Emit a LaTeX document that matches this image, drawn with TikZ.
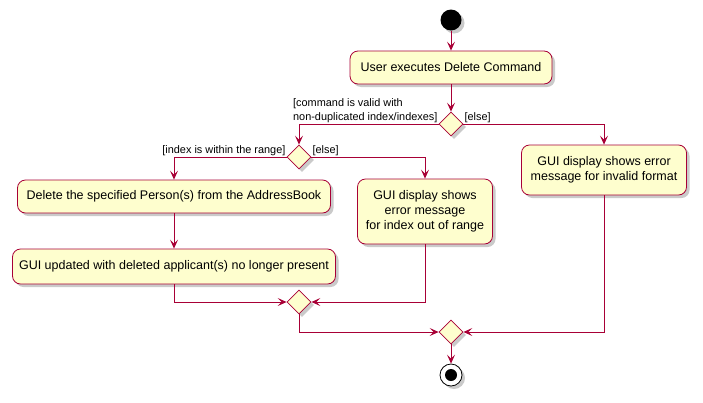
\documentclass[tikz,border=0pt]{standalone}
\usepackage{fontspec}
\setmainfont{Liberation Sans}
\usetikzlibrary{arrows.meta,shapes.geometric,shadows}
\definecolor{umlred}{HTML}{A80036}
\definecolor{umlfill}{HTML}{FEFECE}
\tikzset{
  action/.style={draw=umlred,fill=umlfill,thick,rounded corners=8pt,align=center,
    inner sep=0pt,font=\fontsize{12.5}{15}\selectfont,
    drop shadow={shadow xshift=3pt,shadow yshift=-3pt,fill=black!35,opacity=.6}},
  branch/.style={draw=umlred,fill=umlfill,thick,diamond,inner sep=0pt,
    minimum width=24pt,minimum height=24pt,
    drop shadow={shadow xshift=3pt,shadow yshift=-3pt,fill=black!35,opacity=.6}},
  flow/.style={draw=umlred,thick,-{Stealth[length=9pt,width=8pt,inset=4pt]}},
  guard/.style={font=\fontsize{10.9}{14}\selectfont,inner sep=1pt,align=left}
}
\begin{document}
\begin{tikzpicture}[x=1pt,y=-1pt]
\useasboundingbox (0,0) rectangle (703,402);

% start
\node[circle,fill=black,minimum size=21pt,inner sep=0pt,
  drop shadow={shadow xshift=3pt,shadow yshift=-3pt,fill=black!35,opacity=.6}] (start) at (451,20) {};
\node[action,minimum width=202pt,minimum height=33pt] (exec) at (451,67.5) {User executes Delete Command};
\node[branch] (valid) at (451,124) {};

% valid command
\node[branch] (range) at (299,157) {};
\node[action,minimum width=313pt,minimum height=33pt] (del) at (174,196.5) {Delete the specified Person(s) from the AddressBook};
\node[action,minimum width=323pt,minimum height=35pt] (upd) at (174,266.5) {GUI updated with deleted applicant(s) no longer present};
\node[action,minimum width=135pt,minimum height=65pt] (outrange) at (425,211.5) {GUI display shows\\error message\\for index out of range};
\node[branch] (join1) at (299,302) {};

% invalid format
\node[action,minimum width=165pt,minimum height=50pt] (badfmt) at (604,170) {GUI display shows error\\message for invalid format};
\node[branch] (join2) at (451,332) {};

% stop
\node[circle,draw=black,thick,fill=white,minimum size=22pt,inner sep=0pt,
  drop shadow={shadow xshift=3pt,shadow yshift=-3pt,fill=black!35,opacity=.6}] (stop) at (451,375) {};
\fill[black] (stop) circle (6pt);

\draw[flow] (start) -- (exec);
\draw[flow] (exec) -- (valid);
\draw[flow] (valid.west) -| (range.north);
\draw[flow] (valid.east) -| (badfmt.north);
\draw[flow] (range.west) -| (del.north);
\draw[flow] (range.east) -| (outrange.north);
\draw[flow] (del) -- (upd);
\draw[flow] (upd.south) |- (join1.west);
\draw[flow] (outrange.south) |- (join1.east);
\draw[flow] (join1.south) |- (join2.west);
\draw[flow] (badfmt.south) |- (join2.east);
\draw[flow] (join2) -- (stop);

\node[guard,anchor=south east] (g1) at (valid.west) {[command is valid with\\non-duplicated index/indexes]};
\node[guard,anchor=south west] (g2) at (valid.east) {[else]};
\node[guard,anchor=south east] (g3) at (range.west) {[index is within the range]};
\node[guard,anchor=south west] (g4) at (range.east) {[else]};
\end{tikzpicture}
\end{document}
